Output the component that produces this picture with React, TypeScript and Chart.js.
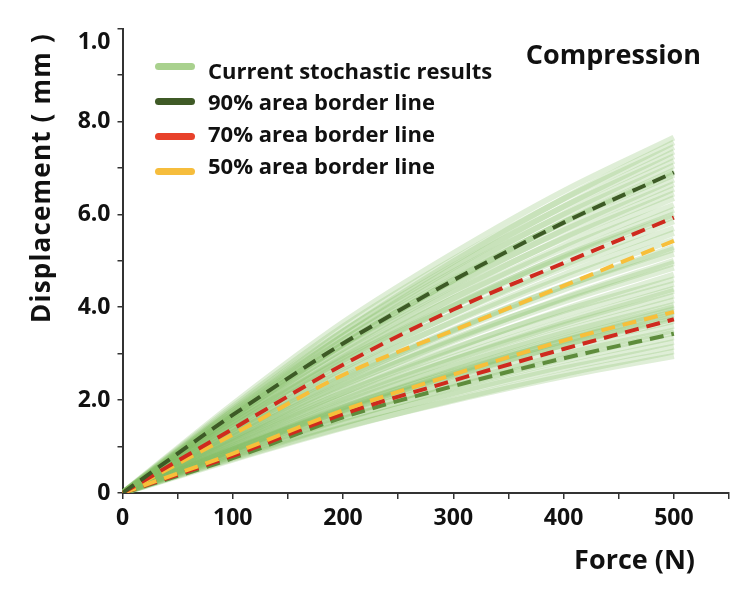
import { useEffect, useRef } from 'react';
import { Chart, registerables } from 'chart.js';

Chart.register(...registerables);

const FONT = '"Open Sans"';

const xValues = [0, 100, 200, 300, 400, 500];
const xTickLabels = ['0', '', '100', '', '200', '', '300', '', '400', '', '500', ''];
// the top label sits a little below its tick in the original, drawn by the overlay
const yTickLabels = ['0', '', '2.0', '', '4.0', '', '6.0', '', '8.0', '', ''];
const yTopLabel = '1.0';

// individual stochastic runs, displacement (mm) at each force in xValues
const stochasticRuns: number[][] = [
  [0, 1.91, 3.67, 5.16, 6.5, 7.65],
  [0, 1.77, 3.47, 4.98, 6.34, 7.55],
  [0, 1.86, 3.58, 5.03, 6.33, 7.45],
  [0, 1.73, 3.38, 4.85, 6.17, 7.35],
  [0, 1.81, 3.48, 4.89, 6.16, 7.25],
  [0, 1.68, 3.29, 4.72, 6.01, 7.15],
  [0, 1.76, 3.38, 4.76, 5.99, 7.05],
  [0, 1.63, 3.2, 4.59, 5.84, 6.95],
  [0, 1.65, 3.22, 4.58, 5.83, 6.9],
  [0, 1.71, 3.29, 4.62, 5.82, 6.85],
  [0, 1.59, 3.11, 4.46, 5.67, 6.75],
  [0, 1.66, 3.19, 4.49, 5.65, 6.65],
  [0, 1.54, 3.01, 4.32, 5.5, 6.55],
  [0, 1.61, 3.1, 4.35, 5.48, 6.45],
  [0, 1.49, 2.92, 4.19, 5.33, 6.35],
  [0, 1.55, 2.98, 4.19, 5.27, 6.2],
  [0, 1.43, 2.81, 4.03, 5.12, 6.1],
  [0, 1.5, 2.88, 4.05, 5.1, 6.0],
  [0, 1.49, 2.86, 4.02, 5.06, 5.95],
  [0, 1.37, 2.69, 3.86, 4.91, 5.85],
  [0, 1.43, 2.74, 3.85, 4.85, 5.7],
  [0, 1.32, 2.58, 3.7, 4.7, 5.6],
  [0, 1.36, 2.62, 3.68, 4.63, 5.45],
  [0, 1.25, 2.44, 3.5, 4.45, 5.3],
  [0, 1.3, 2.5, 3.52, 4.45, 5.25],
  [0, 1.29, 2.47, 3.48, 4.38, 5.15],
  [0, 1.18, 2.3, 3.3, 4.2, 5.0],
  [0, 1.2, 2.36, 3.33, 4.18, 4.95],
  [0, 1.21, 2.33, 3.27, 4.12, 4.85],
  [0, 1.1, 2.16, 3.1, 3.95, 4.7],
  [0, 1.15, 2.22, 3.12, 3.92, 4.6],
  [0, 1.13, 2.16, 3.04, 3.83, 4.5],
  [0, 1.09, 2.08, 2.93, 3.7, 4.4],
  [0, 1.02, 2.0, 2.87, 3.65, 4.35],
  [0, 1.06, 2.04, 2.87, 3.61, 4.25],
  [0, 0.98, 1.91, 2.74, 3.49, 4.15],
  [0, 1.01, 1.94, 2.73, 3.44, 4.05],
  [0, 0.94, 1.84, 2.64, 3.36, 4.0],
  [0, 0.93, 1.82, 2.61, 3.32, 3.95],
  [0, 0.92, 1.79, 2.57, 3.28, 3.9],
  [0, 0.96, 1.85, 2.6, 3.27, 3.85],
  [0, 0.89, 1.75, 2.51, 3.19, 3.8],
  [0, 0.94, 1.8, 2.53, 3.19, 3.75],
  [0, 0.93, 1.78, 2.5, 3.15, 3.7],
  [0, 0.85, 1.66, 2.38, 3.02, 3.6],
  [0, 0.88, 1.68, 2.36, 2.98, 3.5],
  [0, 0.81, 1.59, 2.28, 2.9, 3.45],
  [0, 0.84, 1.61, 2.26, 2.85, 3.35],
  [0, 0.76, 1.5, 2.15, 2.73, 3.25],
  [0, 0.79, 1.51, 2.13, 2.68, 3.15],
  [0, 0.72, 1.4, 2.01, 2.56, 3.05],
  [0, 0.74, 1.42, 1.99, 2.51, 2.95],
];

const upper90 = [0, 1.68, 3.22, 4.58, 5.82, 6.9];
const upper70 = [0, 1.38, 2.76, 3.95, 4.95, 5.93];
const upper50 = [0, 1.26, 2.54, 3.5, 4.46, 5.43];
const lower50 = [0, 0.85, 1.78, 2.55, 3.28, 3.9];
const lower70 = [0, 0.8, 1.7, 2.42, 3.1, 3.74];
const lower90 = [0, 0.75, 1.63, 2.3, 2.9, 3.43];

const legendLabels = [
  'Current stochastic results',
  '90% area border line',
  '70% area border line',
  '50% area border line',
];
const legendColors = ['#a9d18e', '#3f5a26', '#e8412a', '#f6bd3c'];

const toPoints = (ys: number[]) => ys.map((y, i) => ({ x: xValues[i], y }));

const dashed = (data: number[], color: string) => ({
  data: toPoints(data),
  borderColor: color,
  borderWidth: 4,
  borderDash: [14, 8],
  pointRadius: 0,
  cubicInterpolationMode: 'monotone' as const,
  order: 0,
});

const overlayPlugin = {
  id: 'overlay',
  afterDraw(chart: Chart) {
    const { ctx } = chart;
    const y = chart.scales.y;
    ctx.save();
    ctx.fillStyle = '#111';
    ctx.textBaseline = 'alphabetic';

    // legend
    legendLabels.forEach((label, i) => {
      const sy = 66.5 + i * 35;
      const ty = 70.7 + i * 31.7;
      ctx.strokeStyle = legendColors[i];
      ctx.lineWidth = 7;
      ctx.lineCap = 'round';
      ctx.beginPath();
      ctx.moveTo(158.5, sy);
      ctx.lineTo(191.5, sy);
      ctx.stroke();
      ctx.font = `bold 22px ${FONT}`;
      ctx.textAlign = 'left';
      ctx.fillText(label, 208, ty + 7.8);
    });

    ctx.font = `bold 27px ${FONT}`;
    ctx.textAlign = 'right';
    ctx.fillText('Compression', 701, 63.5);

    // x title
    ctx.font = `bold 27px ${FONT}`;
    ctx.textAlign = 'right';
    ctx.fillText('Force (N)', 695, 568.5);

    // top y label
    ctx.font = `bold 23px ${FONT}`;
    ctx.textAlign = 'right';
    ctx.fillText(yTopLabel, y.right - 12, y.getPixelForValue(10) + 20);

    // y title
    ctx.translate(50, 33);
    ctx.rotate(-Math.PI / 2);
    ctx.font = `bold 26px ${FONT}`;
    (ctx as any).letterSpacing = '1.2px';
    ctx.textAlign = 'right';
    ctx.fillText('Displacement ( mm )', 0, 0);
    ctx.restore();
  },
};

export default function App() {
  const canvasRef = useRef<HTMLCanvasElement>(null);
  const chartRef = useRef<Chart | null>(null);

  useEffect(() => {
    if (!canvasRef.current) return;
    chartRef.current?.destroy();

    chartRef.current = new Chart(canvasRef.current, {
      type: 'line',
      data: {
        datasets: [
          dashed(upper90, '#3d5a26'),
          dashed(upper70, '#cf2a1e'),
          dashed(upper50, '#f7bf3a'),
          dashed(lower50, '#f7bf3a'),
          dashed(lower70, '#cf2a1e'),
          dashed(lower90, '#5e8c3c'),
          ...stochasticRuns.map((run) => ({
            data: toPoints(run),
            borderColor: 'rgba(132,190,102,0.26)',
            borderWidth: 6,
            pointRadius: 0,
            cubicInterpolationMode: 'monotone' as const,
            order: 1,
          })),
        ],
      },
      options: {
        animation: false,
        responsive: true,
        maintainAspectRatio: false,
        layout: { padding: { top: 28.5, right: 19, left: 0, bottom: 0 } },
        plugins: {
          legend: { display: false },
          tooltip: { enabled: false },
        },
        scales: {
          x: {
            type: 'linear',
            min: 0,
            max: 550,
            ticks: {
              stepSize: 50,
              color: '#111',
              font: { family: FONT, size: 23, weight: 'bold' },
              padding: 6,
              maxRotation: 0,
              autoSkip: false,
              callback: (_v, i) => xTickLabels[i],
            },
            grid: { drawOnChartArea: false, color: '#333', lineWidth: 1.5, tickLength: 6 },
            border: { color: '#333', width: 2 },
            afterFit: (scale) => {
              scale.height = 98;
            },
          },
          y: {
            type: 'linear',
            min: 0,
            max: 10,
            ticks: {
              stepSize: 1,
              color: '#111',
              font: { family: FONT, size: 23, weight: 'bold' },
              padding: 7,
              autoSkip: false,
              callback: (_v, i) => yTickLabels[i],
            },
            grid: { drawOnChartArea: false, color: '#333', lineWidth: 1.5, tickLength: 5 },
            border: { color: '#333', width: 2 },
            afterFit: (scale) => {
              scale.width = 122.5;
            },
          },
        },
      },
      plugins: [overlayPlugin],
    });

    return () => {
      chartRef.current?.destroy();
    };
  }, []);

  return (
    <div style={{ position: 'fixed', left: 0, top: 0, width: 748, height: 591, background: '#fff' }}>
      <canvas ref={canvasRef} />
    </div>
  );
}
